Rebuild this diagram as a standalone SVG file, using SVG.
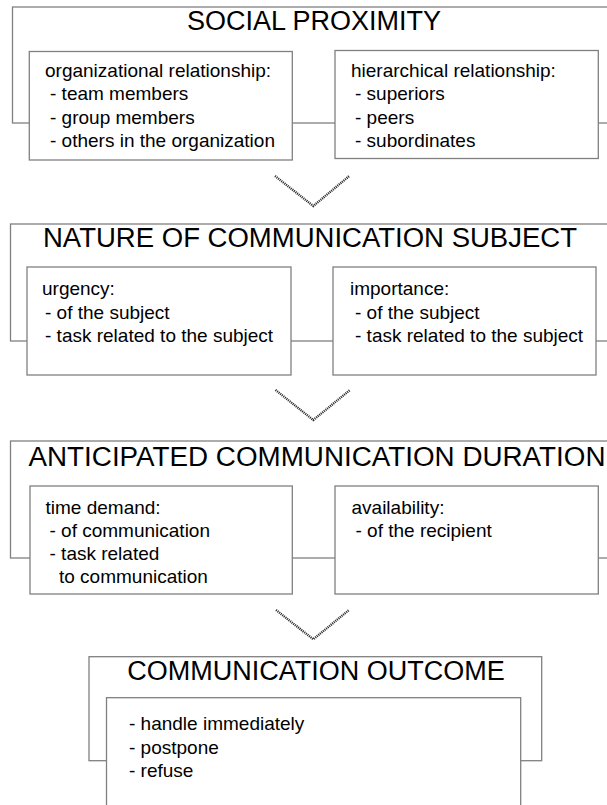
<svg xmlns="http://www.w3.org/2000/svg" width="607" height="805" viewBox="0 0 607 805">
  <style>
    .frame { fill: #ffffff; stroke: #808080; stroke-width: 1.3; }
    .box { fill: #ffffff; stroke: #808080; stroke-width: 1.3; }
    .title { font-family: "Liberation Sans", Arial, sans-serif; font-size: 27px; fill: #000000; text-anchor: middle; }
    .body { font-family: "Liberation Sans", Arial, sans-serif; font-size: 19px; fill: #000000; }
    .chevron { fill: none; stroke: #2a2a2a; stroke-width: 2.4; stroke-dasharray: 1.1 0.9; }
  </style>
  <rect width="607" height="805" fill="#ffffff"/>

  <!-- Level 1: social proximity -->
  <g id="social-proximity">
    <rect class="frame" x="12.5" y="7" width="620" height="116"/>
    <text class="title" x="314" y="29.5">SOCIAL PROXIMITY</text>
    <g id="organizational-relationship">
      <rect class="box" x="29.3" y="51.5" width="263" height="108.5"/>
      <text class="body" x="45" y="77">organizational relationship:</text>
      <text class="body" x="50" y="100.3">- team members</text>
      <text class="body" x="50" y="123.6">- group members</text>
      <text class="body" x="50" y="147">- others in the organization</text>
    </g>
    <g id="hierarchical-relationship">
      <rect class="box" x="335" y="50.5" width="263.3" height="108"/>
      <text class="body" x="351" y="77">hierarchical relationship:</text>
      <text class="body" x="355" y="100.3">- superiors</text>
      <text class="body" x="355" y="123.6">- peers</text>
      <text class="body" x="355" y="147">- subordinates</text>
    </g>
  </g>

  <!-- Level 2: nature of communication subject -->
  <g id="communication-subject">
    <rect class="frame" x="10.5" y="224" width="620" height="117"/>
    <text class="title" x="310" y="247" textLength="534" lengthAdjust="spacingAndGlyphs">NATURE OF COMMUNICATION SUBJECT</text>
    <g id="urgency">
      <rect class="box" x="27" y="267" width="264" height="108"/>
      <text class="body" x="42" y="295">urgency:</text>
      <text class="body" x="45" y="318.5">- of the subject</text>
      <text class="body" x="45" y="342">- task related to the subject</text>
    </g>
    <g id="importance">
      <rect class="box" x="333" y="267" width="263" height="108"/>
      <text class="body" x="350" y="295">importance:</text>
      <text class="body" x="355" y="318.5">- of the subject</text>
      <text class="body" x="355" y="342">- task related to the subject</text>
    </g>
  </g>

  <!-- Level 3: anticipated communication duration -->
  <g id="communication-duration">
    <rect class="frame" x="10.5" y="441" width="620" height="117"/>
    <text class="title" x="317" y="466" textLength="577" lengthAdjust="spacingAndGlyphs">ANTICIPATED COMMUNICATION DURATION</text>
    <g id="time-demand">
      <rect class="box" x="30" y="486" width="262.3" height="108"/>
      <text class="body" x="45.5" y="514">time demand:</text>
      <text class="body" x="49.5" y="537">- of communication</text>
      <text class="body" x="49.5" y="560">- task related</text>
      <text class="body" x="59" y="583">to communication</text>
    </g>
    <g id="availability">
      <rect class="box" x="335" y="486" width="263.3" height="108"/>
      <text class="body" x="351.5" y="514">availability:</text>
      <text class="body" x="355.5" y="537">- of the recipient</text>
    </g>
  </g>

  <!-- Level 4: communication outcome -->
  <g id="communication-outcome">
    <rect class="frame" x="89" y="656.7" width="452.7" height="104"/>
    <text class="title" x="316" y="680">COMMUNICATION OUTCOME</text>
    <g id="outcome-options">
      <rect class="box" x="106.5" y="697.7" width="414.2" height="120"/>
      <text class="body" x="129" y="730">- handle immediately</text>
      <text class="body" x="129" y="753.5">- postpone</text>
      <text class="body" x="129" y="777">- refuse</text>
    </g>
  </g>

  <!-- Flow between levels -->
  <g id="connectors">
    <path class="chevron" d="M275,176 L313.3,206 L349.3,176"/>
    <path class="chevron" d="M275.5,390 L313.3,420 L350,390"/>
    <path class="chevron" d="M276,610 L313.3,639.3 L349,610"/>
  </g>
</svg>
